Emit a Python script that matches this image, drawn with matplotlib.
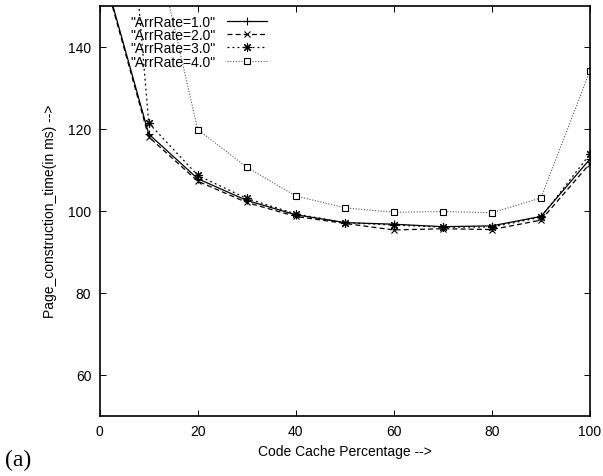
import numpy as np
import matplotlib
matplotlib.use("Agg")
import matplotlib.pyplot as plt

plt.rcParams['font.family'] = ['Liberation Sans', 'DejaVu Sans']
plt.rcParams['font.size'] = 10

# cache percentage on x
pct = [0, 10, 20, 30, 40, 50, 60, 70, 80, 90, 100]

# page construction time (ms) for each arrival rate
rate1 = [161.5, 118.7, 107.8, 102.5, 99.0, 97.1, 96.7, 96.1, 96.3, 98.6, 112.6]
rate2 = [161.0, 118.0, 107.2, 102.0, 98.6, 96.9, 95.3, 95.6, 95.4, 97.7, 111.5]
rate3 = [264.0, 121.4, 108.6, 103.0, 99.2, 97.1, 96.5, 96.0, 96.0, 98.4, 113.8]
rate4 = [240.0, 172.0, 119.8, 110.6, 103.6, 100.7, 99.6, 99.8, 99.5, 103.1, 134.1]

labels = ['"ArrRate=1.0"', '"ArrRate=2.0"', '"ArrRate=3.0"', '"ArrRate=4.0"']

fig = plt.figure(figsize=(6.03, 4.77), dpi=100)
ax = fig.add_axes([0.1653, 0.1264, 0.8131, 0.8596])

ax.plot(pct, rate1, color='black', lw=0.9, ls='-', marker='+', ms=6,
        mew=0.8, label=labels[0])
ax.plot(pct, rate2, color='black', lw=0.9, ls=(0, (4, 2.5)), marker='x',
        ms=4.5, mew=0.8, label=labels[1])
ax.plot(pct, rate3, color='black', lw=0.9, ls=(0, (1.5, 2.5)),
        marker=(8, 2, 0), ms=6.5, mew=0.8, label=labels[2])
ax.plot(pct, rate4, color='#555555', lw=0.8, ls=(0, (1, 1.5)), marker='s',
        ms=5, mfc='white', mec='black', mew=0.8, label=labels[3])

ax.set_xlim(0, 100)
ax.set_ylim(50, 150)
ax.set_xticks([0, 20, 40, 60, 80, 100])
ax.set_yticks([60, 80, 100, 120, 140])
ax.tick_params(direction='in', length=4.5, width=0.7, top=True, right=True,
               labelsize=10, pad=6)
for sp in ax.spines.values():
    sp.set_linewidth(1.2)

ax.set_xlabel('Code Cache Percentage -->', fontsize=10, labelpad=4)
ax.set_ylabel('Page_construction_time(in ms) -->', fontsize=10, labelpad=8)

ax.legend(loc='upper left', bbox_to_anchor=(0.063, 0.978), frameon=False,
          markerfirst=False, handlelength=2.9, handletextpad=0.8,
          labelspacing=-0.05, borderpad=0, borderaxespad=0, fontsize=10)

fig.text(0.008, 0.022, '(a)', fontsize=17, family='Liberation Serif')

fig.savefig('out.png', dpi=100)
